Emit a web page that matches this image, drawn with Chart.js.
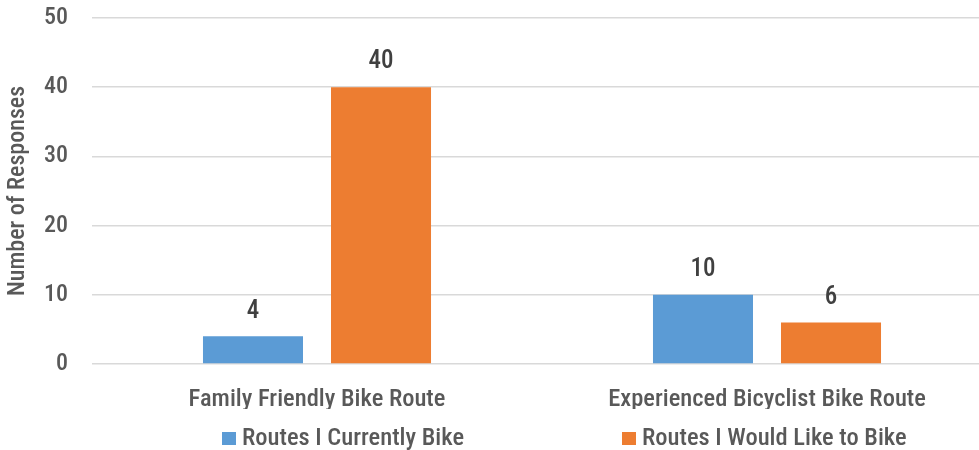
<!DOCTYPE html>
<html><head><meta charset="utf-8">
<script src="https://cdn.jsdelivr.net/npm/chart.js@4/dist/chart.umd.min.js"></script>
<style>
html,body{margin:0;padding:0;overflow:hidden;background:#fff;}
#wrap{width:992px;height:450px;position:relative;}
</style></head>
<body><div id="wrap"><canvas id="c" width="992" height="450"></canvas></div>
<script>
const categories = ["Family Friendly Bike Route", "Experienced Bicyclist Bike Route"];
const seriesNames = ["Routes I Currently Bike", "Routes I Would Like to Bike"];
const currentlyBike = [4, 10];
const wouldLikeToBike = [40, 6];
const yTicks = [0, 10, 20, 30, 40, 50];

const FONT = "'Roboto Condensed', 'Liberation Sans Narrow', sans-serif";
const TXT = '#595959';
const W = 500;

const dataLabels = {
  id: 'dataLabels',
  afterDatasetsDraw(chart) {
    const ctx = chart.ctx;
    ctx.save();
    ctx.font = W + ' 25px ' + FONT;
    ctx.fillStyle = '#404040';
    ctx.textAlign = 'center';
    ctx.textBaseline = 'middle';
    chart.data.datasets.forEach((ds, i) => {
      chart.getDatasetMeta(i).data.forEach((bar, j) => {
        ctx.fillText(String(ds.data[j]), bar.x, bar.y - 25);
      });
    });
    ctx.restore();
  }
};

const customLegend = {
  id: 'customLegend',
  afterDraw(chart) {
    const ctx = chart.ctx;
    ctx.save();
    ctx.font = W + ' 24.5px ' + FONT;
    ctx.textBaseline = 'middle';
    const y = 438;
    const starts = [222, 622];
    chart.data.datasets.forEach((ds, i) => {
      const x = starts[i];
      ctx.fillStyle = ds.backgroundColor;
      ctx.fillRect(x, y - 6, 14, 13);
      ctx.fillStyle = TXT;
      ctx.fillText(ds.label, x + 20, y + 1);
    });
    ctx.restore();
  }
};

new Chart(document.getElementById('c'), {
  type: 'bar',
  data: {
    labels: categories,
    datasets: [
      { label: seriesNames[0], data: currentlyBike, backgroundColor: '#5B9BD5', barPercentage: 0.78125, categoryPercentage: 0.569 },
      { label: seriesNames[1], data: wouldLikeToBike, backgroundColor: '#ED7D31', barPercentage: 0.78125, categoryPercentage: 0.569 }
    ]
  },
  options: {
    responsive: false,
    animation: false,
    devicePixelRatio: 1,
    layout: { padding: { top: 18, bottom: 41, left: 0, right: 0 } },
    plugins: { legend: { display: false }, tooltip: { enabled: false } },
    scales: {
      x: {
        grid: { display: false, drawTicks: false },
        border: { display: false },
        afterFit(scale) { scale.height = 45; scale.paddingLeft = 0; scale.paddingRight = 0; scale.paddingTop = 0; scale.paddingBottom = 0; },
        ticks: { color: TXT, font: { family: FONT, size: 24.5, weight: W }, padding: 21 }
      },
      y: {
        min: 0, max: 50,
        afterBuildTicks(scale) { scale.ticks = yTicks.map(v => ({ value: v })); },
        afterFit(scale) { scale.width = 92; scale.paddingTop = 0; scale.paddingBottom = 0; },
        grid: { color: '#d9d9d9', lineWidth: 1.5, drawTicks: false },
        border: { display: false },
        ticks: { color: TXT, font: { family: FONT, size: 24, weight: W }, padding: 24 },
        title: { display: true, text: 'Number of Responses', color: TXT, font: { family: FONT, size: 24, weight: W }, padding: { top: 4, bottom: 0 } }
      }
    }
  },
  plugins: [dataLabels, customLegend]
});
</script></body></html>
